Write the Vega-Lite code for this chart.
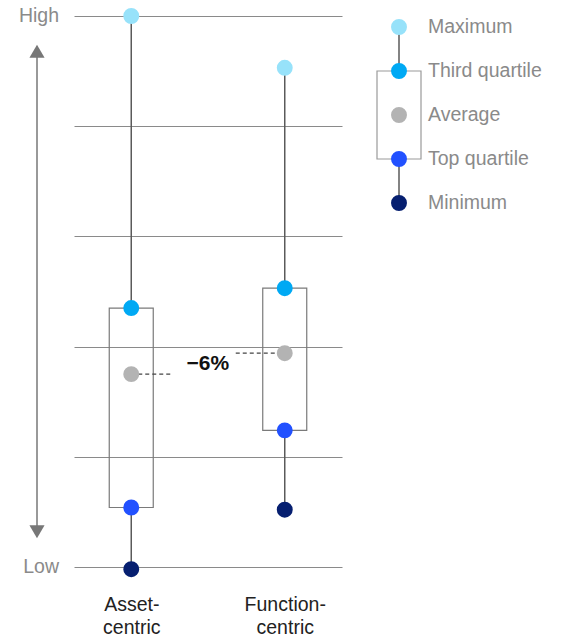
{
  "$schema": "https://vega.github.io/schema/vega-lite/v6.json",
  "background": "white",
  "padding": {"left": 0, "top": 6, "right": 0, "bottom": 0},
  "spacing": 0,
  "config": {
    "view": {"stroke": null},
    "font": "Liberation Sans",
    "concat": {"spacing": 0}
  },
  "datasets": {
    "stats": [
      {"category": "Asset-centric", "Maximum": 5.0, "Third quartile": 2.35, "Average": 1.75, "Top quartile": 0.54, "Minimum": -0.02},
      {"category": "Function-centric", "Maximum": 4.53, "Third quartile": 2.53, "Average": 1.94, "Top quartile": 1.24, "Minimum": 0.52}
    ],
    "levels": [
      {"label": "High", "level": 5},
      {"label": "Low", "level": 0}
    ],
    "items": [
      {"item": "Maximum"},
      {"item": "Third quartile"},
      {"item": "Average"},
      {"item": "Top quartile"},
      {"item": "Minimum"}
    ]
  },
  "hconcat": [
    {
      "width": 74,
      "height": 551,
      "encoding": {
        "x": {"datum": "scale", "type": "nominal", "axis": null}
      },
      "layer": [
        {
          "data": {"values": [{}]},
          "mark": {"type": "rule", "color": "#777777", "strokeWidth": 1.5},
          "encoding": {
            "y": {"datum": 0.3, "type": "quantitative", "scale": {"domain": [0, 5], "nice": false, "zero": false}, "axis": null},
            "y2": {"datum": 4.7}
          }
        },
        {
          "data": {"values": [{}]},
          "mark": {"type": "point", "shape": "triangle-up", "filled": true, "size": 230, "color": "#777777", "opacity": 1},
          "encoding": {"y": {"datum": 4.68, "type": "quantitative"}}
        },
        {
          "data": {"values": [{}]},
          "mark": {"type": "point", "shape": "triangle-down", "filled": true, "size": 230, "color": "#777777", "opacity": 1},
          "encoding": {"y": {"datum": 0.32, "type": "quantitative"}}
        },
        {
          "data": {"name": "levels"},
          "mark": {"type": "text", "align": "right", "baseline": "middle", "dx": 22, "fontSize": 19.5, "color": "#8a8a8a"},
          "encoding": {
            "y": {"field": "level", "type": "quantitative"},
            "text": {"field": "label"}
          }
        }
      ]
    },
    {
      "width": 268,
      "height": 551,
      "data": {"name": "stats"},
      "encoding": {
        "x": {
          "field": "category",
          "type": "nominal",
          "sort": null,
          "scale": {"type": "point", "padding": 0.373},
          "axis": {
            "title": null,
            "domain": false,
            "ticks": false,
            "grid": false,
            "labelAngle": 0,
            "labelPadding": 28,
            "labelFontSize": 19.5,
            "labelColor": "#222222",
            "labelLineHeight": 23,
            "labelExpr": "split(replace(datum.label, '-', '-|'), '|')"
          }
        }
      },
      "layer": [
        {
          "mark": {"type": "rule", "color": "#5a5a5a", "strokeWidth": 1.5},
          "encoding": {
            "y": {
              "field": "Maximum",
              "type": "quantitative",
              "title": null,
              "scale": {"domain": [0, 5], "nice": false, "zero": false},
              "axis": {
                "values": [0, 1, 2, 3, 4, 5],
                "labels": false,
                "ticks": false,
                "domain": false,
                "grid": true,
                "gridColor": "#8a8a8a",
                "gridWidth": 1,
                "minExtent": 0,
                "maxExtent": 0
              }
            },
            "y2": {"field": "Third quartile"}
          }
        },
        {
          "mark": {"type": "rule", "color": "#5a5a5a", "strokeWidth": 1.5},
          "encoding": {
            "y": {"field": "Top quartile", "type": "quantitative", "title": null},
            "y2": {"field": "Minimum"}
          }
        },
        {
          "mark": {"type": "bar", "width": 44, "fill": "transparent", "stroke": "#7a7a7a", "strokeWidth": 1.2},
          "encoding": {
            "y": {"field": "Third quartile", "type": "quantitative", "title": null},
            "y2": {"field": "Top quartile"}
          }
        },
        {
          "transform": [{"filter": "datum.category == 'Asset-centric'"}],
          "mark": {"type": "rule", "color": "#444444", "strokeWidth": 1.3, "strokeDash": [4, 3], "x2Offset": 41},
          "encoding": {
            "y": {"field": "Average", "type": "quantitative", "title": null},
            "x2": {"field": "category"}
          }
        },
        {
          "transform": [{"filter": "datum.category == 'Function-centric'"}],
          "mark": {"type": "rule", "color": "#444444", "strokeWidth": 1.3, "strokeDash": [4, 3], "xOffset": -49},
          "encoding": {
            "y": {"field": "Average", "type": "quantitative", "title": null},
            "x2": {"field": "category"}
          }
        },
        {
          "transform": [
            {"fold": ["Maximum", "Third quartile", "Average", "Top quartile", "Minimum"], "as": ["item", "value"]}
          ],
          "mark": {"type": "circle", "size": 254, "opacity": 1},
          "encoding": {
            "y": {"field": "value", "type": "quantitative", "title": null},
            "color": {
              "field": "item",
              "type": "nominal",
              "scale": {
                "domain": ["Maximum", "Third quartile", "Average", "Top quartile", "Minimum"],
                "range": ["#97e2fa", "#00a9f4", "#b3b3b3", "#2251ff", "#061f70"]
              },
              "legend": null
            }
          }
        },
        {
          "transform": [
            {"aggregate": [{"op": "mean", "field": "Average", "as": "mid"}]}
          ],
          "mark": {"type": "text", "fontSize": 21, "fontWeight": "bold", "color": "#111111", "align": "center", "baseline": "middle", "xOffset": 76.5},
          "encoding": {
            "x": {"datum": "Asset-centric", "type": "nominal"},
            "y": {"field": "mid", "type": "quantitative", "title": null},
            "text": {"value": "−6%"}
          }
        }
      ]
    },
    {
      "width": 114,
      "height": 198,
      "encoding": {
        "x": {"datum": "key", "type": "nominal", "axis": null}
      },
      "layer": [
        {
          "data": {"values": [{}]},
          "mark": {"type": "rule", "color": "#5a5a5a", "strokeWidth": 1.5},
          "encoding": {
            "y": {
              "datum": "Maximum",
              "type": "nominal",
              "scale": {"type": "point", "padding": 0.25, "domain": ["Maximum", "Third quartile", "Average", "Top quartile", "Minimum"]},
              "axis": null
            },
            "y2": {"datum": "Third quartile"}
          }
        },
        {
          "data": {"values": [{}]},
          "mark": {"type": "rule", "color": "#5a5a5a", "strokeWidth": 1.5},
          "encoding": {
            "y": {"datum": "Top quartile", "type": "nominal"},
            "y2": {"datum": "Minimum"}
          }
        },
        {
          "data": {"values": [{}]},
          "mark": {"type": "bar", "width": 44, "fill": "transparent", "stroke": "#9a9a9a", "strokeWidth": 1.2},
          "encoding": {
            "y": {"datum": "Third quartile", "type": "nominal"},
            "y2": {"datum": "Top quartile"}
          }
        },
        {
          "data": {"name": "items"},
          "mark": {"type": "circle", "size": 254, "opacity": 1},
          "encoding": {
            "y": {"field": "item", "type": "nominal"},
            "color": {
              "field": "item",
              "type": "nominal",
              "scale": {
                "domain": ["Maximum", "Third quartile", "Average", "Top quartile", "Minimum"],
                "range": ["#97e2fa", "#00a9f4", "#b3b3b3", "#2251ff", "#061f70"]
              },
              "legend": null
            }
          }
        },
        {
          "data": {"name": "items"},
          "mark": {"type": "text", "align": "left", "baseline": "middle", "dx": 29, "fontSize": 19.5, "color": "#8a8a8a"},
          "encoding": {
            "y": {"field": "item", "type": "nominal"},
            "text": {"field": "item"}
          }
        }
      ]
    }
  ]
}
